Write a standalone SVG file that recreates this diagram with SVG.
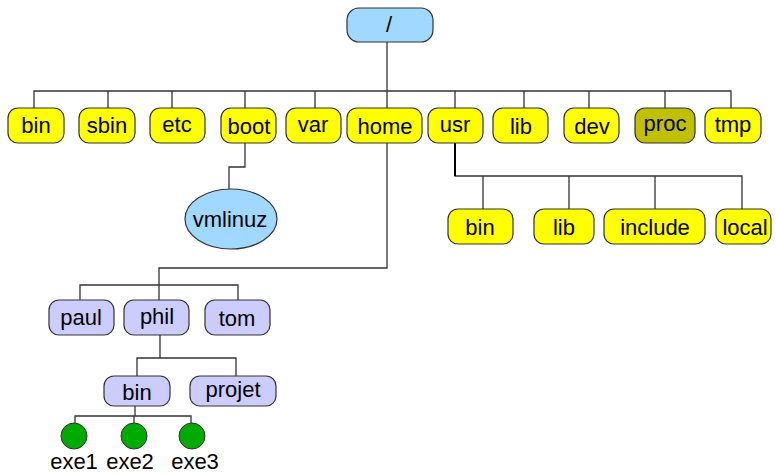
<svg xmlns="http://www.w3.org/2000/svg" width="776" height="474" viewBox="0 0 776 474">
<style>
.n rect{stroke:#333;stroke-width:1.2}
.y{fill:#ffff00}
.p{fill:#ccccff}
.b{fill:#a0d8ff}
.o{fill:#c0c000}
.g{fill:#00aa00;stroke:#333;stroke-width:1}
text{font-family:"Liberation Sans",Arial,sans-serif;font-size:22px;fill:#000;text-anchor:middle}
#links path{fill:none;stroke:#333;stroke-width:1.3}
</style>
<rect width="776" height="474" fill="#fff"/>
<g id="links">
<path d="M387 42V108M34 108V91H731V108M108 91V108M172 91V108M245 91V108M315 91V108M455 91V108M524 91V108M589 91V108M665 91V108"/>
<path d="M245 143V167H229V189"/>
<path d="M387 143V268H159V285M80 300V285H238V300M159 285V300"/>
<path d="M455 143V176H742V209M483 176V209M569 176V209M655 176V209"/>
<path d="M455 143V176" style="stroke:#000;stroke-width:2"/>
<path d="M160 335V358M137 376V358H236V376"/>
<path d="M135 406V416M75 423V416H191V423M134 416V423"/>
</g>
<g id="root" class="n"><rect class="b" x="347" y="8" width="86" height="34" rx="12"/><text x="389" y="32">/</text></g>
<g id="bin" class="n"><rect class="y" x="8" y="108" width="56" height="35" rx="10"/><text x="36" y="133">bin</text></g>
<g id="sbin" class="n"><rect class="y" x="79" y="108" width="56" height="35" rx="10"/><text x="107" y="133">sbin</text></g>
<g id="etc" class="n"><rect class="y" x="150" y="108" width="55" height="35" rx="10"/><text x="177" y="132">etc</text></g>
<g id="boot" class="n"><rect class="y" x="221" y="108" width="55" height="35" rx="10"/><text x="249" y="134">boot</text></g>
<g id="var" class="n"><rect class="y" x="286" y="108" width="55" height="35" rx="10"/><text x="313" y="132">var</text></g>
<g id="home" class="n"><rect class="y" x="347" y="108" width="75" height="35" rx="10"/><text x="385" y="134">home</text></g>
<g id="usr" class="n"><rect class="y" x="428" y="108" width="55" height="35" rx="10"/><text x="455" y="132">usr</text></g>
<g id="lib" class="n"><rect class="y" x="493" y="108" width="55" height="35" rx="10"/><text x="521" y="134">lib</text></g>
<g id="dev" class="n"><rect class="y" x="564" y="108" width="55" height="35" rx="10"/><text x="592" y="134">dev</text></g>
<g id="proc" class="n"><rect class="o" x="635" y="108" width="60" height="35" rx="10"/><text x="665" y="131">proc</text></g>
<g id="tmp" class="n"><rect class="y" x="705" y="108" width="56" height="35" rx="10"/><text x="733" y="132">tmp</text></g>
<g id="vmlinuz"><ellipse cx="231" cy="219" rx="46" ry="30" fill="#a0d8ff" stroke="#333" stroke-width="1.2"/><text x="230" y="227">vmlinuz</text></g>
<g id="usr-bin" class="n"><rect class="y" x="448" y="209" width="65" height="35" rx="10"/><text x="480" y="235">bin</text></g>
<g id="usr-lib" class="n"><rect class="y" x="534" y="209" width="60" height="35" rx="10"/><text x="564" y="235">lib</text></g>
<g id="usr-include" class="n"><rect class="y" x="604" y="209" width="101" height="35" rx="10"/><text x="655" y="235">include</text></g>
<g id="usr-local" class="n"><rect class="y" x="716" y="209" width="55" height="35" rx="10"/><text x="745" y="235">local</text></g>
<g id="paul" class="n"><rect class="p" x="49" y="300" width="65" height="35" rx="10"/><text x="81" y="325">paul</text></g>
<g id="phil" class="n"><rect class="p" x="124" y="300" width="65" height="35" rx="10"/><text x="157" y="324">phil</text></g>
<g id="tom" class="n"><rect class="p" x="205" y="300" width="65" height="35" rx="10"/><text x="237" y="326">tom</text></g>
<g id="phil-bin" class="n"><rect class="p" x="104" y="376" width="66" height="30" rx="10"/><text x="137" y="400">bin</text></g>
<g id="projet" class="n"><rect class="p" x="190" y="376" width="86" height="30" rx="10"/><text x="233" y="397">projet</text></g>
<g id="exe1"><circle class="g" cx="74" cy="436" r="13"/><text x="74" y="469">exe1</text></g>
<g id="exe2"><circle class="g" cx="134" cy="436" r="13"/><text x="130" y="469">exe2</text></g>
<g id="exe3"><circle class="g" cx="192" cy="436" r="13"/><text x="195" y="469">exe3</text></g>
</svg>
